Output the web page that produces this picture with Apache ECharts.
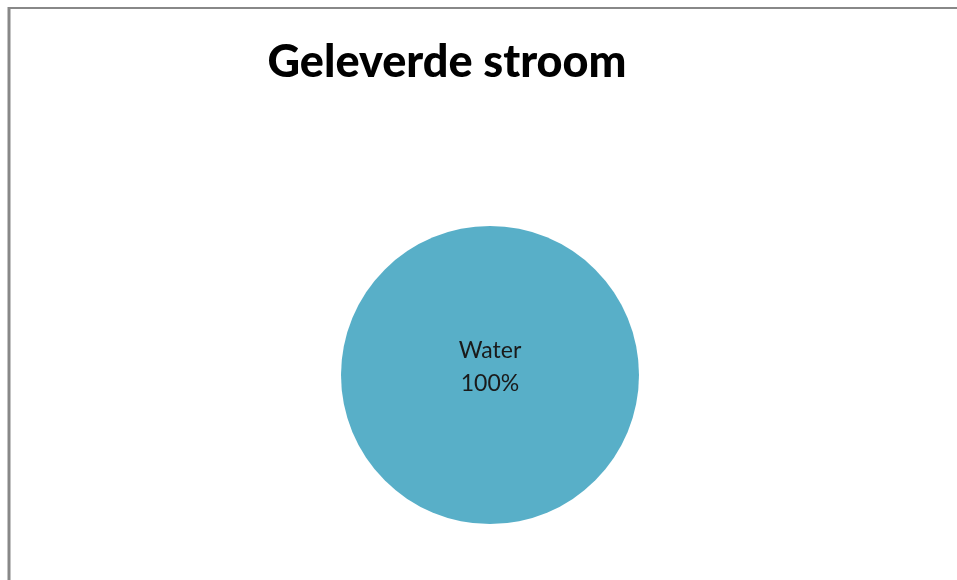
<!DOCTYPE html>
<html><head><meta charset="utf-8">
<script src="https://cdn.jsdelivr.net/npm/echarts@6/dist/echarts.min.js"></script>
<style>html,body{margin:0;padding:0;background:#fff}#c{width:957px;height:580px}</style>
</head><body><div id="c"></div>
<script>
const categories = ["Water"];
const values = [100];
const titleText = "Geleverde stroom";
const chart = echarts.init(document.getElementById('c'));
chart.setOption({
  backgroundColor: '#ffffff',
  animation: false,
  title: {
    text: titleText, left: 442, top: 35, textAlign: 'center',
    textStyle: { fontFamily: 'Lato', fontWeight: 900, fontSize: 45, color: '#000' }
  },
  graphic: [
    { type: 'line', shape: { x1: 9, y1: 8, x2: 957, y2: 8 }, style: { stroke: '#888', lineWidth: 2 } },
    { type: 'line', shape: { x1: 9, y1: 7, x2: 9, y2: 580 }, style: { stroke: '#888', lineWidth: 3 } }
  ],
  series: [{
    type: 'pie',
    center: [490, 375],
    radius: [0, 149],
    silent: true,
    data: categories.map((c, i) => ({ name: c, value: values[i] })),
    itemStyle: { color: '#58AFC8', borderWidth: 0 },
    label: {
      position: 'center',
      offset: [0, -8],
      formatter: p => p.name + '\n' + Math.round(p.percent) + '%',
      fontFamily: 'Lato', fontSize: 23, color: '#1a1a1a', lineHeight: 33
    },
    labelLine: { show: false }
  }]
});
</script></body></html>
